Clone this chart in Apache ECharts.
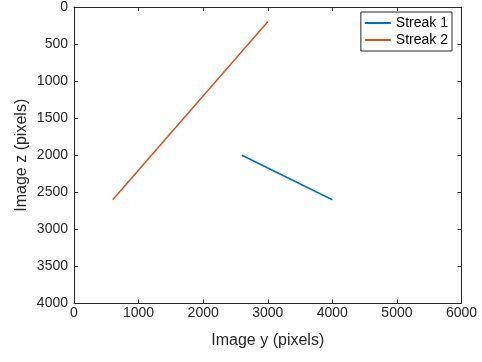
<!DOCTYPE html>
<html><head><meta charset="utf-8">
<script src="https://cdn.jsdelivr.net/npm/echarts@6/dist/echarts.min.js"></script>
<style>html,body{margin:0;padding:0;background:#fff}#c{width:482px;height:362px}</style>
</head><body><div id="c"></div>
<script>
const seriesNames = ['Streak 1', 'Streak 2'];
const streak1 = [[2600, 2000], [4000, 2600]];
const streak2 = [[600, 2600], [3000, 200]];
const xTicks = [0, 1000, 2000, 3000, 4000, 5000, 6000];
const yTicks = [0, 500, 1000, 1500, 2000, 2500, 3000, 3500, 4000];
const colors = ['#0072BD', '#D95319'];

const font = 'Liberation Sans, Arial, Helvetica, sans-serif';
const axCol = '#262626';
const chart = echarts.init(document.getElementById('c'));
const baseAxis = {
  axisLine: {show: true, onZero: false, lineStyle: {color: axCol, width: 1}},
  axisTick: {show: true, inside: true, length: 4, lineStyle: {color: axCol}},
  splitLine: {show: false}
};
chart.setOption({
  animation: false,
  color: colors,
  grid: {left: 74, right: 20.5, top: 5, bottom: 58.5},
  legend: {
    data: seriesNames, orient: 'vertical', right: 30, top: 12,
    backgroundColor: '#fff', borderColor: axCol, borderWidth: 1, borderRadius: 0,
    padding: [4, 4, 4, 4], itemGap: 3, itemWidth: 26, itemHeight: 10,
    textStyle: {fontFamily: font, fontSize: 14, color: '#000', padding: [0, 0, 0, 0]},
    icon: 'path://M0,4 L26,4 L26,6 L0,6 Z'
  },
  xAxis: [
    Object.assign({}, baseAxis, {
      type: 'value', min: 0, max: 6000, interval: 1000, position: 'bottom',
      name: 'Image y (pixels)', nameLocation: 'middle', nameGap: 29, nameMoveOverlap: false,
      nameTextStyle: {fontFamily: font, fontSize: 16, color: axCol},
      axisLabel: {fontFamily: font, fontSize: 14, color: axCol, margin: 3,
        formatter: v => xTicks.includes(v) ? String(v) : ''}
    }),
    Object.assign({}, baseAxis, {
      type: 'value', min: 0, max: 6000, interval: 1000, position: 'top',
      axisLabel: {show: false}
    })
  ],
  yAxis: [
    Object.assign({}, baseAxis, {
      type: 'value', min: 0, max: 4000, interval: 500, inverse: true, position: 'left',
      name: 'Image z (pixels)', nameLocation: 'middle', nameGap: 44, nameMoveOverlap: false,
      nameTextStyle: {fontFamily: font, fontSize: 16, color: axCol},
      axisLabel: {fontFamily: font, fontSize: 14, color: axCol, margin: 6,
        formatter: v => yTicks.includes(v) ? String(v) : ''}
    }),
    Object.assign({}, baseAxis, {
      type: 'value', min: 0, max: 4000, interval: 500, inverse: true, position: 'right',
      axisLabel: {show: false}
    })
  ],
  series: [
    {name: seriesNames[0], type: 'line', data: streak1, showSymbol: false, symbol: 'none',
     lineStyle: {width: 1.5, color: colors[0]}},
    {name: seriesNames[1], type: 'line', data: streak2, showSymbol: false, symbol: 'none',
     lineStyle: {width: 1.5, color: colors[1]}}
  ]
});
</script></body></html>
